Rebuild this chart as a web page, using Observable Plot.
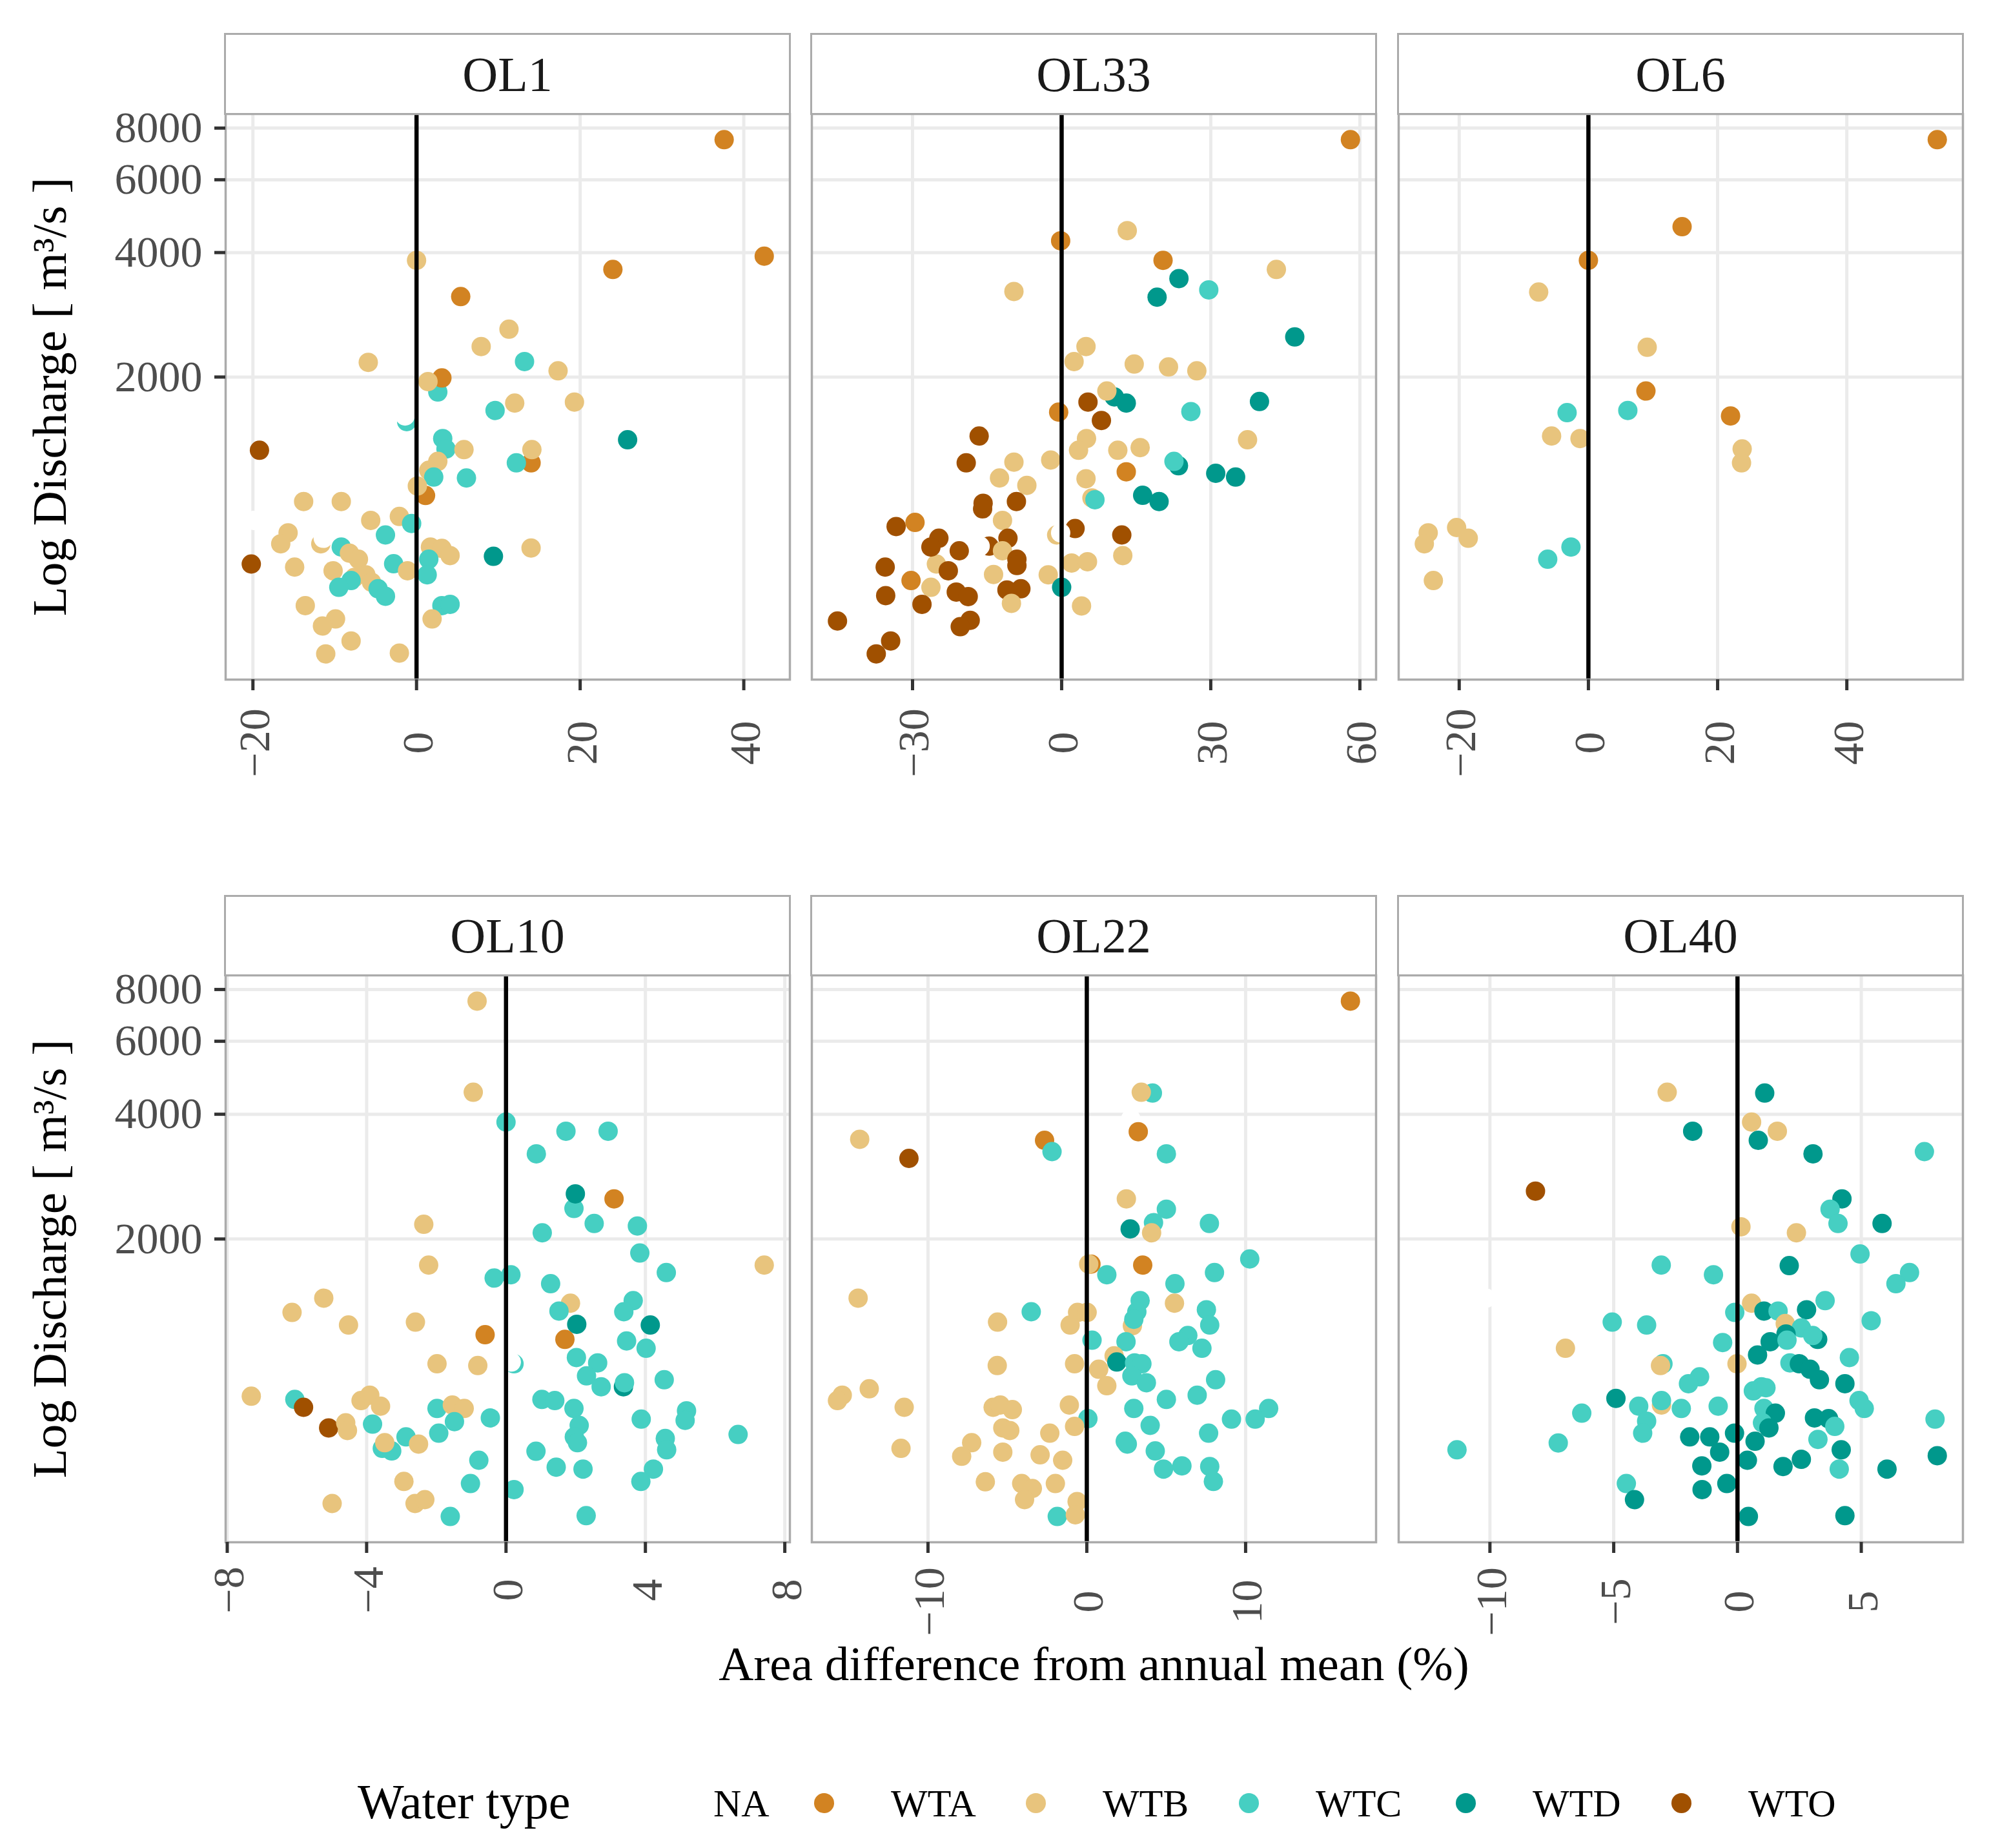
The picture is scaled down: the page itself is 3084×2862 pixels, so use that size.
<!DOCTYPE html>
<html><head><meta charset="utf-8">
<script src="https://cdn.jsdelivr.net/npm/d3@7"></script>
<script src="https://cdn.jsdelivr.net/npm/@observablehq/plot@0.6"></script>
<style>
html,body{margin:0;padding:0;background:#fff;}
#root{position:relative;width:3084px;height:2862px;background:#fff;font-family:"Liberation Serif",serif;overflow:hidden;}
.strip{position:absolute;box-sizing:border-box;border:3.5px solid #ababab;background:#fff;display:flex;align-items:center;justify-content:center;color:#1a1a1a;}
.strip span{font-size:76px;line-height:1;}
.abs{position:absolute;white-space:nowrap;line-height:1;}
.key{position:absolute;border-radius:50%;}
</style></head><body><div id="root"></div>
<script>
// ---------- data ----------
const yTicks = [2000, 4000, 6000, 8000];
const typeCodes = ["N", "A", "B", "C", "D", "O"];
const typeLabels = ["NA", "WTA", "WTB", "WTC", "WTD", "WTO"];
const typeColors = ["#ffffff", "#d28322", "#e8c47d", "#46cfc2", "#00988c", "#a05000"];
const panelNames = ["OL1", "OL33", "OL6", "OL10", "OL22", "OL40"];
const xTicksOL1 = [-20, 0, 20, 40];
const xTicksOL33 = [-30, 0, 30, 60];
const xTicksOL6 = [-20, 0, 20, 40];
const xTicksOL10 = [-8, -4, 0, 4, 8];
const xTicksOL22 = [-10, 0, 10];
const xTicksOL40 = [-10, -5, 0, 5];
const yTitle = "Log Discharge [ m³/s ]";
const xTitle = "Area difference from annual mean (%)";
const legendTitle = "Water type";

// [area difference %, discharge m3/s, water type]
const ol1 = [[37.6,7500,"A"],[42.5,3920,"A"],[24.0,3640,"A"],[0.0,3830,"B"],[5.4,3130,"A"],[11.3,2610,"B"],[7.9,2370,"B"],[13.2,2180,"C"],[-5.9,2170,"B"],[17.3,2070,"B"],[2.6,1840,"C"],[3.1,1990,"A"],[1.4,1950,"B"],[19.3,1740,"B"],[12.0,1730,"B"],[9.6,1660,"C"],[-1.2,1560,"C"],[-1.4,1610,"N"],[25.8,1410,"D"],[3.2,1420,"C"],[3.6,1340,"C"],[5.8,1335,"B"],[14.0,1240,"A"],[14.1,1335,"B"],[12.2,1240,"C"],[-19.2,1330,"O"],[2.6,1250,"B"],[1.5,1190,"B"],[2.1,1146,"C"],[6.1,1140,"C"],[1.1,1034,"A"],[0.1,1090,"B"],[-13.8,1000,"B"],[-9.2,1000,"B"],[-5.6,900,"B"],[-2.1,920,"B"],[-0.6,885,"C"],[-19.9,900,"N"],[-15.7,840,"B"],[-16.6,790,"B"],[-3.8,830,"C"],[-11.7,790,"B"],[-11.4,815,"N"],[-9.2,776,"C"],[-8.2,750,"B"],[-7.1,725,"B"],[1.7,776,"B"],[3.1,770,"B"],[4.1,740,"B"],[1.5,725,"C"],[9.4,737,"D"],[14.0,772,"B"],[-20.2,706,"O"],[-14.9,694,"B"],[-2.8,707,"C"],[-10.2,680,"B"],[-1.1,680,"B"],[1.3,665,"C"],[-7.6,655,"B"],[-6.2,665,"B"],[-8.0,644,"C"],[-9.5,620,"C"],[-5.5,638,"B"],[-4.7,615,"C"],[-3.8,590,"C"],[3.1,560,"C"],[4.1,564,"C"],[-13.6,560,"B"],[-9.9,520,"B"],[-11.5,500,"B"],[1.9,520,"B"],[-8.0,460,"B"],[-11.1,428,"B"],[-2.1,430,"B"]];

const ol33 = [[58.1,7500,"A"],[13.2,4520,"B"],[-0.2,4270,"A"],[20.4,3830,"A"],[23.6,3460,"D"],[29.6,3250,"C"],[19.2,3120,"D"],[-9.6,3220,"B"],[43.2,3640,"B"],[46.9,2500,"D"],[4.9,2370,"B"],[2.5,2180,"B"],[14.6,2150,"B"],[21.5,2115,"B"],[27.2,2070,"B"],[10.6,1790,"D"],[13.0,1730,"D"],[9.1,1850,"B"],[5.3,1740,"O"],[39.8,1745,"D"],[26.0,1650,"C"],[-0.6,1645,"A"],[8.0,1570,"O"],[-16.6,1440,"O"],[5.0,1420,"B"],[37.4,1410,"B"],[3.4,1330,"B"],[11.3,1330,"B"],[15.8,1350,"B"],[-2.2,1260,"B"],[-9.6,1245,"B"],[-19.2,1240,"O"],[23.5,1220,"D"],[22.6,1250,"C"],[31.0,1170,"D"],[35.0,1146,"D"],[13.0,1180,"A"],[-12.5,1140,"B"],[4.9,1135,"B"],[-7.0,1094,"B"],[16.3,1035,"D"],[19.6,1000,"D"],[6.1,1020,"B"],[6.7,1010,"C"],[-15.8,990,"O"],[-15.9,960,"O"],[-9.1,1000,"O"],[-11.9,900,"B"],[-25.2,706,"B"],[-26.3,620,"B"],[-33.3,870,"O"],[-29.5,890,"A"],[2.7,860,"O"],[-1.0,830,"B"],[-0.2,840,"N"],[12.1,830,"O"],[-24.7,815,"O"],[-26.3,776,"O"],[-20.6,760,"O"],[-14.6,780,"O"],[-16.4,780,"N"],[-10.8,815,"O"],[-11.9,760,"B"],[12.3,740,"B"],[-9.0,725,"O"],[-9.0,700,"O"],[-35.5,694,"O"],[2.0,710,"B"],[5.2,715,"B"],[-22.8,680,"O"],[-13.7,666,"B"],[-2.7,665,"B"],[-30.3,644,"A"],[0.0,620,"D"],[-8.2,615,"O"],[-11.0,611,"O"],[-35.4,592,"O"],[-21.2,604,"O"],[-18.8,589,"O"],[-10.1,567,"B"],[-28.1,564,"O"],[4.0,559,"B"],[-45.1,514,"O"],[-18.4,516,"O"],[-20.4,498,"O"],[-34.4,460,"O"],[-37.3,428,"O"]];

const ol6 = [[54.0,7500,"A"],[14.5,4620,"A"],[0.0,3830,"A"],[-7.7,3210,"B"],[9.1,2360,"B"],[8.9,1850,"A"],[-3.3,1640,"C"],[6.1,1660,"C"],[22.0,1610,"A"],[-5.7,1440,"B"],[-1.3,1420,"B"],[23.8,1340,"B"],[23.7,1240,"B"],[-20.4,865,"B"],[-24.8,840,"B"],[-18.6,815,"B"],[-25.4,790,"B"],[-2.7,776,"C"],[-6.3,725,"C"],[-24.0,644,"B"]];

const ol10 = [[-0.83,7500,"B"],[-0.94,4520,"B"],[0.0,3830,"C"],[1.72,3640,"C"],[2.93,3640,"C"],[0.87,3210,"C"],[1.95,2370,"C"],[1.99,2570,"D"],[3.10,2500,"A"],[-2.36,2170,"B"],[2.53,2180,"C"],[3.77,2150,"C"],[1.04,2070,"C"],[3.84,1850,"C"],[7.41,1730,"B"],[-2.22,1730,"B"],[4.60,1660,"C"],[-0.34,1610,"C"],[0.14,1640,"C"],[1.28,1560,"C"],[-5.23,1440,"B"],[1.85,1400,"B"],[3.65,1420,"C"],[1.52,1340,"C"],[3.38,1335,"C"],[-6.14,1330,"B"],[-4.52,1240,"B"],[-2.60,1260,"B"],[2.03,1245,"D"],[4.14,1240,"D"],[-0.60,1175,"A"],[1.69,1145,"A"],[3.46,1135,"C"],[4.02,1090,"C"],[2.02,1035,"C"],[2.63,1005,"C"],[-1.98,1000,"B"],[-0.81,990,"B"],[0.23,1000,"C"],[0.15,1010,"N"],[2.31,935,"C"],[2.73,880,"C"],[3.37,880,"D"],[3.40,900,"C"],[4.54,915,"C"],[-7.31,835,"B"],[-6.06,820,"C"],[-5.81,785,"O"],[-4.16,815,"B"],[-3.91,840,"B"],[-3.60,790,"B"],[-1.98,780,"C"],[-1.54,795,"B"],[-1.20,780,"B"],[1.03,820,"C"],[1.40,815,"C"],[1.95,780,"C"],[5.18,770,"C"],[5.14,730,"C"],[-0.45,740,"C"],[-5.09,700,"O"],[-4.60,720,"B"],[-4.55,690,"B"],[-3.83,715,"C"],[-1.48,725,"C"],[3.88,735,"C"],[2.10,710,"C"],[1.96,666,"C"],[2.05,645,"C"],[6.66,675,"C"],[4.57,660,"C"],[4.61,620,"C"],[-2.87,666,"C"],[-1.93,680,"C"],[-3.55,625,"C"],[-3.28,616,"C"],[-3.48,645,"B"],[-2.51,640,"B"],[0.86,615,"C"],[-0.78,585,"C"],[1.44,563,"C"],[2.21,557,"C"],[4.23,557,"C"],[3.87,520,"C"],[-2.93,520,"B"],[-1.02,514,"C"],[0.23,497,"C"],[-4.99,460,"B"],[-2.61,460,"B"],[-2.33,470,"B"],[-1.60,428,"C"],[2.30,430,"C"]];

const ol22 = [[16.6,7500,"A"],[4.13,4500,"C"],[3.43,4520,"B"],[2.77,3900,"N"],[3.24,3630,"A"],[-14.3,3480,"B"],[-2.66,3460,"A"],[-2.19,3250,"C"],[5.01,3210,"C"],[-11.2,3130,"O"],[2.49,2500,"B"],[5.01,2360,"C"],[4.20,2190,"C"],[7.72,2180,"C"],[2.73,2115,"D"],[4.08,2070,"B"],[10.26,1790,"C"],[0.26,1740,"A"],[0.12,1740,"B"],[3.52,1730,"A"],[1.26,1640,"C"],[8.04,1660,"C"],[5.55,1560,"C"],[-14.4,1440,"B"],[3.36,1420,"C"],[5.52,1400,"B"],[7.53,1350,"C"],[-3.50,1335,"C"],[-0.58,1330,"B"],[0.02,1330,"B"],[2.87,1235,"B"],[3.15,1335,"C"],[2.96,1280,"C"],[-5.62,1260,"B"],[-1.05,1240,"B"],[7.74,1240,"C"],[6.36,1170,"C"],[5.80,1130,"C"],[0.33,1140,"C"],[2.47,1130,"C"],[7.25,1090,"C"],[1.72,1045,"B"],[1.89,1010,"D"],[3.01,1005,"C"],[3.47,1000,"C"],[-5.64,990,"B"],[-0.77,1000,"B"],[0.75,970,"B"],[2.84,935,"C"],[8.11,915,"C"],[3.75,900,"C"],[1.26,885,"B"],[-13.7,870,"B"],[-15.4,840,"B"],[-15.7,815,"B"],[6.95,840,"C"],[5.01,820,"C"],[-11.5,785,"B"],[-5.90,785,"B"],[-5.45,795,"B"],[-4.69,775,"B"],[-1.10,795,"B"],[2.96,780,"C"],[9.11,735,"C"],[11.45,780,"C"],[10.6,735,"C"],[0.07,737,"C"],[-0.77,706,"B"],[-5.29,700,"B"],[-4.85,690,"B"],[3.99,710,"C"],[7.67,680,"C"],[-2.33,680,"B"],[2.42,650,"C"],[2.55,640,"C"],[-11.7,625,"B"],[-7.25,645,"B"],[-7.88,598,"B"],[-5.29,612,"B"],[-2.94,603,"B"],[-1.52,585,"B"],[4.31,616,"C"],[4.83,557,"C"],[5.99,567,"C"],[7.74,565,"C"],[7.97,520,"C"],[-6.39,519,"B"],[-4.10,514,"B"],[-3.43,500,"B"],[-3.92,470,"B"],[-1.98,514,"B"],[-1.86,428,"C"],[-0.61,465,"B"],[-0.72,432,"B"]];

const ol40 = [[-12.65,1000,"N"],[-2.84,4520,"B"],[1.10,4500,"D"],[0.57,3830,"B"],[1.61,3640,"B"],[-1.81,3640,"D"],[0.84,3460,"D"],[3.05,3210,"D"],[7.55,3250,"C"],[-8.16,2610,"O"],[4.22,2500,"D"],[3.74,2360,"C"],[4.06,2180,"C"],[5.84,2180,"D"],[0.14,2140,"B"],[2.38,2070,"B"],[4.95,1840,"C"],[-3.08,1730,"C"],[2.09,1725,"D"],[6.95,1660,"C"],[-0.97,1640,"C"],[6.40,1560,"C"],[-10.15,1440,"N"],[0.57,1400,"B"],[3.54,1420,"C"],[1.07,1340,"D"],[1.64,1340,"C"],[2.79,1350,"D"],[-0.11,1330,"C"],[-5.06,1260,"C"],[-3.67,1240,"C"],[5.40,1270,"C"],[1.93,1250,"B"],[2.58,1220,"C"],[1.96,1180,"D"],[3.24,1145,"D"],[3.04,1170,"C"],[1.32,1130,"D"],[2.00,1140,"C"],[-0.60,1125,"C"],[-6.95,1090,"B"],[0.81,1050,"D"],[4.52,1035,"C"],[-3.01,1000,"C"],[-3.11,990,"B"],[-0.02,1000,"B"],[2.12,1005,"C"],[2.50,1000,"D"],[2.93,970,"D"],[3.31,915,"D"],[-1.53,930,"C"],[-1.98,895,"C"],[4.34,895,"D"],[0.64,860,"C"],[0.97,880,"C"],[1.15,875,"C"],[-4.91,825,"D"],[-3.07,795,"B"],[-3.99,790,"C"],[-3.07,815,"C"],[-2.27,780,"C"],[-0.78,790,"C"],[4.91,815,"C"],[5.12,780,"C"],[-6.29,760,"C"],[1.07,780,"C"],[1.53,760,"D"],[1.01,720,"C"],[1.27,700,"D"],[3.11,740,"D"],[3.68,737,"D"],[3.93,706,"C"],[7.98,735,"C"],[-3.67,727,"C"],[-3.83,680,"C"],[-1.93,666,"D"],[-1.12,666,"D"],[-0.12,680,"D"],[3.25,657,"C"],[-7.24,644,"C"],[-11.33,620,"C"],[-0.72,612,"D"],[0.71,650,"D"],[4.19,620,"D"],[8.07,600,"D"],[0.40,585,"D"],[-1.44,567,"D"],[1.84,565,"D"],[2.58,588,"D"],[4.11,557,"C"],[6.04,557,"D"],[-4.49,514,"C"],[-0.43,514,"D"],[-1.43,497,"D"],[-4.16,470,"D"],[0.44,428,"D"],[4.34,430,"D"]];

// ---------- layout ----------
const panelData = [ol1, ol33, ol6, ol10, ol22, ol40];
const panelTicks = [xTicksOL1, xTicksOL33, xTicksOL6, xTicksOL10, xTicksOL22, xTicksOL40];
const colLeft = [349, 1257, 2166];
const PW = 874;
const rowTop = [176, 1510];
const rowH = [876, 878];
const stripTop = [51, 1386];
const labelOffset = [98, 98, 98, 74, 92, 92];
const FONT = "Liberation Serif";
const TICK_FS = 68;

const root = document.getElementById("root");

// shared log y domain with ggplot-like 5% expansion
const allV = panelData.flat().map(d => d[1]);
const lMin = Math.log10(d3.min(allV)), lMax = Math.log10(d3.max(allV));
const lPad = 0.05 * (lMax - lMin);
const yDomain = [Math.pow(10, lMin - lPad), Math.pow(10, lMax + lPad)];

const fmt = t => (t < 0 ? "\u2212" + Math.abs(t) : String(t));

panelData.forEach((data, i) => {
  const r = Math.floor(i / 3), c = i % 3;
  const xs = data.map(d => d[0]).concat([0]);
  const xmin = d3.min(xs), xmax = d3.max(xs);
  const xp = 0.05 * (xmax - xmin);
  const mL = c === 0 ? 349 : 17, mR = c === 2 ? 44 : 17, mT = 4, mB = 175;
  const W = mL + PW + mR, H = mT + rowH[r] + mB;
  const ticks = panelTicks[i];

  const marks = [
    Plot.gridX(ticks, {stroke: "#ebebeb", strokeOpacity: 1, strokeWidth: 5}),
    Plot.gridY(yTicks, {stroke: "#ebebeb", strokeOpacity: 1, strokeWidth: 5}),
    Plot.dot(data, {x: d => d[0], y: d => d[1], fill: d => d[2], r: 15, stroke: "none"}),
    Plot.ruleX([0], {stroke: "#000", strokeWidth: 6.5}),
    Plot.frame({stroke: "#ababab", strokeWidth: 3.5}),
    Plot.axisX(ticks, {anchor: "bottom", tickSize: 17, fill: "none", stroke: "#333333", strokeWidth: 5, label: null}),
    Plot.text(ticks, {x: d => d, text: fmt, frameAnchor: "bottom", dy: labelOffset[i], dx: 25,
      rotate: -90, textAnchor: "middle", fontSize: TICK_FS, fontFamily: FONT, fill: "#4d4d4d"})
  ];
  if (c === 0) {
    marks.push(
      Plot.axisY(yTicks, {anchor: "left", tickSize: 17, fill: "none", stroke: "#333333", strokeWidth: 5, label: null}),
      Plot.text(yTicks, {y: d => d, text: d => String(d), frameAnchor: "left", dx: -36,
        textAnchor: "end", fontSize: TICK_FS, fontFamily: FONT, fill: "#4d4d4d"}),
      Plot.text([yTitle], {text: d => d, frameAnchor: "left", dx: -272, rotate: -90,
        textAnchor: "middle", fontSize: 75, fontFamily: FONT, fill: "#000"})
    );
  }
  const svg = Plot.plot({
    width: W, height: H,
    marginLeft: mL, marginRight: mR, marginTop: mT, marginBottom: mB,
    style: {background: "transparent", fontFamily: FONT, overflow: "visible"},
    x: {type: "linear", domain: [xmin - xp, xmax + xp], axis: null},
    y: {type: "log", domain: yDomain, axis: null},
    color: {domain: typeCodes, range: typeColors},
    marks
  });
  const holder = document.createElement("div");
  holder.style.cssText = `position:absolute;left:${colLeft[c] - mL}px;top:${rowTop[r] - mT}px;width:${W}px;height:${H}px;`;
  holder.appendChild(svg);
  root.appendChild(holder);

  const strip = document.createElement("div");
  strip.className = "strip";
  strip.style.left = (colLeft[c] - 1.75) + "px";
  strip.style.top = stripTop[r] + "px";
  strip.style.width = (PW + 3.5) + "px";
  strip.style.height = (rowTop[r] - stripTop[r] + 2) + "px";
  strip.innerHTML = `<span>${panelNames[i]}</span>`;
  root.appendChild(strip);
});

// text helper (baseline positioning)
function addText(txt, left, baseline, fs, extra) {
  const el = document.createElement("div");
  el.className = "abs";
  el.textContent = txt;
  el.style.fontSize = fs + "px";
  el.style.left = left + "px";
  el.style.top = (baseline - 0.8375 * fs) + "px";
  el.style.color = "#000";
  if (extra) Object.assign(el.style, extra);
  root.appendChild(el);
  return el;
}
addText(xTitle, 349, 2602, 75, {width: "2691px", textAlign: "center"});

// legend
addText(legendTitle, 554, 2816, 76);
const legendLabelLeft = [1105, 1380, 1708, 2038, 2374, 2708];
typeLabels.forEach((lab, k) => {
  const key = document.createElement("div");
  key.className = "key";
  const cx = legendLabelLeft[k] - 104, cy = 2792, rr = 15.5;
  key.style.cssText += `left:${cx - rr}px;top:${cy - rr}px;width:${2 * rr}px;height:${2 * rr}px;background:${typeColors[k]};`;
  root.appendChild(key);
  addText(lab, legendLabelLeft[k], 2813, 60);
});
</script></body></html>
